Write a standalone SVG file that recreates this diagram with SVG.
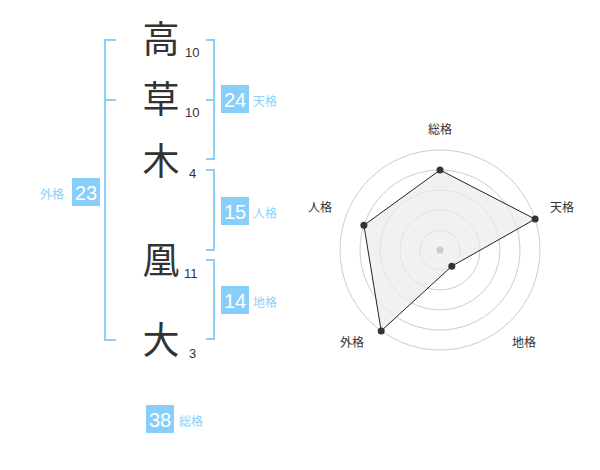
<svg xmlns="http://www.w3.org/2000/svg" width="600" height="470" viewBox="0 0 600 470">
<style>
.k{font-family:"Noto Sans CJK JP","Noto Sans CJK SC",sans-serif;font-size:37px;fill:#333;text-anchor:middle}
.n{font-family:"Liberation Sans",Arial,sans-serif;font-size:13px;fill:#333}
.br{fill:none;stroke:#8ccff8;stroke-width:2}
.box{fill:#88cefa}
.bn{font-family:"Liberation Sans",Arial,sans-serif;font-size:20px;fill:#fff;text-anchor:middle}
.bl{font-family:"Noto Sans CJK JP","Noto Sans CJK SC",sans-serif;font-size:12px;fill:#8ccff8}
.ring{fill:none;stroke:#ccc;stroke-width:1}
.rl{font-family:"Noto Sans CJK JP","Noto Sans CJK SC",sans-serif;font-size:12px;fill:#333;text-anchor:middle}
</style>
<rect width="600" height="470" fill="#fff"/>
<g id="chars">
<g id="c1"><text class="k" x="161" y="53">高</text><text class="n" x="185" y="57">10</text></g>
<g id="c2"><text class="k" x="161" y="113">草</text><text class="n" x="185" y="117">10</text></g>
<g id="c3"><text class="k" x="161" y="175">木</text><text class="n" x="189" y="178">4</text></g>
<g id="c4"><text class="k" x="161" y="274">凰</text><text class="n" x="184" y="278">11</text></g>
<g id="c5"><text class="k" x="161" y="354">大</text><text class="n" x="189" y="358">3</text></g>
</g>
<g id="connectors">
<path class="br" d="M116,40 H105 V340 H116 M105,100 H116"/>
<path class="br" d="M206,40 H214 V159 H206 M206,100 H214"/>
<path class="br" d="M206,170 H214 V250 H206"/>
<path class="br" d="M206,260 H214 V339 H206"/>
</g>
<g id="tenkaku"><rect class="box" x="221" y="85" width="28" height="28"/><text class="bn" x="235" y="107">24</text><text class="bl" x="253" y="106">天格</text></g>
<g id="jinkaku"><rect class="box" x="221" y="197" width="28" height="28"/><text class="bn" x="235" y="219">15</text><text class="bl" x="253" y="218">人格</text></g>
<g id="chikaku"><rect class="box" x="221" y="286" width="28" height="28"/><text class="bn" x="235" y="308">14</text><text class="bl" x="253" y="307">地格</text></g>
<g id="gaikaku"><rect class="box" x="72" y="178" width="28" height="28"/><text class="bn" x="86" y="200">23</text><text class="bl" x="40" y="199">外格</text></g>
<g id="soukaku"><rect class="box" x="146" y="405" width="28" height="28"/><text class="bn" x="160" y="427">38</text><text class="bl" x="179" y="426">総格</text></g>
<g id="radar">
<circle class="ring" cx="440" cy="250" r="20"/>
<circle class="ring" cx="440" cy="250" r="40"/>
<circle class="ring" cx="440" cy="250" r="60"/>
<circle class="ring" cx="440" cy="250" r="80"/>
<circle class="ring" cx="440" cy="250" r="100"/>
<polygon points="440,170 535.1,219.1 451.8,266.2 381.2,330.9 363.9,225.3" fill="#ebebeb" fill-opacity="0.7" stroke="#222" stroke-width="1"/>
<circle cx="440" cy="250" r="3.5" fill="#ccc"/>
<g fill="#333">
<circle cx="440" cy="170" r="3.5"/>
<circle cx="535.1" cy="219.1" r="3.5"/>
<circle cx="451.8" cy="266.2" r="3.5"/>
<circle cx="381.2" cy="330.9" r="3.5"/>
<circle cx="363.9" cy="225.3" r="3.5"/>
</g>
<text class="rl" x="440" y="134">総格</text>
<text class="rl" x="562" y="212">天格</text>
<text class="rl" x="524" y="347">地格</text>
<text class="rl" x="352" y="347">外格</text>
<text class="rl" x="320" y="212">人格</text>
</g>
</svg>
